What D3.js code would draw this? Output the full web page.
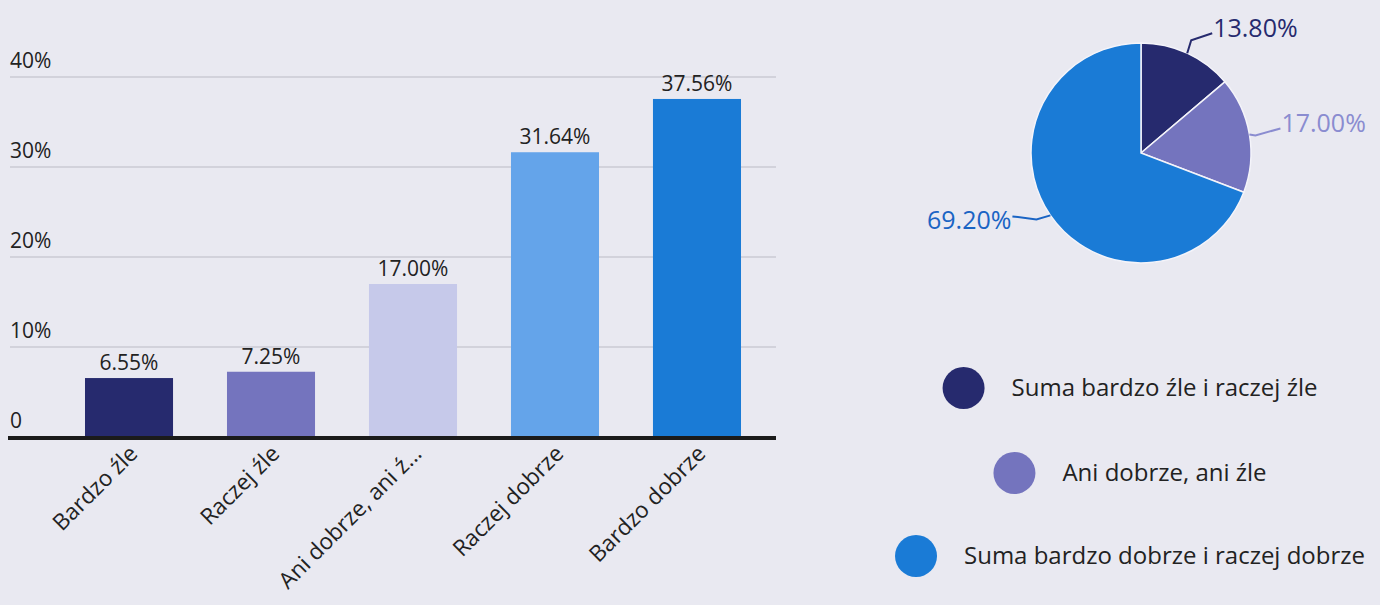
<!DOCTYPE html>
<html><head><meta charset="utf-8">
<script src="https://cdn.jsdelivr.net/npm/d3@7"></script>
<style>
html,body{margin:0;padding:0;background:#e9e9f1;}
svg{display:block;font-family:"Open Sans",sans-serif;}
</style></head>
<body>
<svg id="c" width="1380" height="605"></svg>
<script>
// ---- data ----
const barCategories = ["Bardzo źle", "Raczej źle", "Ani dobrze, ani ź...", "Raczej dobrze", "Bardzo dobrze"];
const barValues = [6.55, 7.25, 17.00, 31.64, 37.56];
const barColors = ["#262a6e", "#7474be", "#c6c9ea", "#64a4ea", "#1a7bd6"];
const yTicks = [0, 10, 20, 30, 40];
const yTickLabels = ["0", "10%", "20%", "30%", "40%"];

const pieCategories = ["Suma bardzo źle i raczej źle", "Ani dobrze, ani źle", "Suma bardzo dobrze i raczej dobrze"];
const pieValues = [13.80, 17.00, 69.20];
const pieColors = ["#262a6e", "#7474be", "#1a7bd6"];
const pieLabelColors = ["#262a6e", "#8a8cd0", "#1a64c4"];

const svg = d3.select("#c");

// ---- bar chart ----
const x = d3.scaleBand().domain(barCategories).range([14, 812]).paddingInner(0.38).paddingOuter(0.5);
const y = d3.scaleLinear().domain([0, 40]).range([437, 77]);

const g = svg.append("g");
g.selectAll("line.grid").data(yTicks.filter(d => d > 0)).join("line")
  .attr("x1", 10).attr("x2", 776)
  .attr("y1", d => y(d)).attr("y2", d => y(d))
  .attr("stroke", "#cacad3").attr("stroke-width", 1.5);
g.selectAll("text.tick").data(yTicks).join("text")
  .attr("x", 10).attr("y", d => y(d) - 9)
  .attr("font-size", 21).attr("fill", "#222")
  .text((d, i) => yTickLabels[i]);

g.selectAll("rect.bar").data(barValues).join("rect")
  .attr("x", (d, i) => x(barCategories[i]))
  .attr("width", x.bandwidth())
  .attr("y", d => y(d)).attr("height", d => y(0) - y(d))
  .attr("fill", (d, i) => barColors[i]);

g.selectAll("text.val").data(barValues).join("text")
  .attr("x", (d, i) => x(barCategories[i]) + x.bandwidth() / 2)
  .attr("y", d => y(d) - 8)
  .attr("text-anchor", "middle").attr("font-size", 21).attr("fill", "#222")
  .text(d => d.toFixed(2) + "%");

g.append("line").attr("x1", 8).attr("x2", 776).attr("y1", y(0) + 1).attr("y2", y(0) + 1)
  .attr("stroke", "#1b1b1b").attr("stroke-width", 4);

g.selectAll("text.xl").data(barCategories).join("text")
  .attr("text-anchor", "end").attr("font-size", 22.5).attr("fill", "#222")
  .attr("transform", d => `translate(${x(d) + x.bandwidth() / 2 + 10},${455}) rotate(-45)`)
  .text(d => d);

// ---- pie ----
const cx = 1141, cy = 153, r = 110;
const pie = d3.pie().sort(null).value(d => d)(pieValues);
const arc = d3.arc().innerRadius(0).outerRadius(r);
const pg = svg.append("g").attr("transform", `translate(${cx},${cy})`);
pg.selectAll("path").data(pie).join("path")
  .attr("d", arc).attr("fill", (d, i) => pieColors[i])
  .attr("stroke", "#f4f4fa").attr("stroke-width", 1.5);

// labels with leader lines (offsets from the arc midpoint)
const labelPos = [
  {anchor: "start", mid: [4, -13], end: [25, -20], dy: 4},
  {anchor: "start", mid: [6, 1], end: [31, -6], dy: 4},
  {anchor: "end", mid: [-14, 4], end: [-38, 1], dy: 13}
];
pie.forEach((d, i) => {
  const a = (d.startAngle + d.endAngle) / 2;
  const px = Math.sin(a) * r, py = -Math.cos(a) * r;
  const L = labelPos[i];
  const ex = px + L.end[0], ey = py + L.end[1];
  const mx = px + L.mid[0], my = py + L.mid[1];
  pg.append("path")
    .attr("d", `M${px},${py} L${mx},${my} L${ex},${ey}`)
    .attr("fill", "none").attr("stroke", pieLabelColors[i]).attr("stroke-width", 2);
  pg.append("text")
    .attr("x", ex + (L.anchor === "start" ? 1 : -1)).attr("y", ey + L.dy)
    .attr("text-anchor", L.anchor).attr("font-size", 25)
    .attr("fill", pieLabelColors[i])
    .text(d.data.toFixed(2) + "%");
});

// ---- legend ----
const legY = [388, 473, 556];
const legCenter = 1130;
pieCategories.forEach((c, i) => {
  const lg = svg.append("g");
  const t = lg.append("text").attr("font-size", 24).attr("fill", "#222")
    .attr("y", legY[i] + 8).text(c);
  const w = t.node().getComputedTextLength();
  const total = 42 + 27 + w;
  const left = legCenter - total / 2;
  lg.append("circle").attr("cx", left + 21).attr("cy", legY[i]).attr("r", 21).attr("fill", pieColors[i]);
  t.attr("x", left + 42 + 27);
});
</script>
</body></html>
